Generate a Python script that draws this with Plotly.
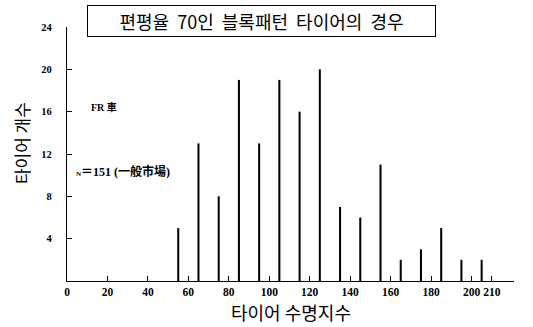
import plotly.graph_objects as go

# Tire life index classes (bar positions) and tire counts
life_index = [55, 65, 75, 85, 95, 105, 115, 125, 135, 145, 155, 165, 175, 185, 195, 205]
tire_count = [5, 13, 8, 19, 13, 19, 16, 20, 7, 6, 11, 2, 3, 5, 2, 2]

x_ticks = [0, 20, 40, 60, 80, 100, 120, 140, 160, 180, 200, 210]
y_ticks = [4, 8, 12, 16, 20, 24]

serif = "Liberation Serif, Times New Roman, Noto Sans CJK JP, serif"
kr = "Noto Sans CJK KR, sans-serif"

fig = go.Figure()
fig.add_trace(go.Bar(
    x=life_index, y=tire_count, width=1.0,
    marker=dict(color="black", line=dict(width=0)),
    hoverinfo="x+y",
))

fig.update_layout(
    width=533, height=327,
    margin=dict(l=67, r=19, t=27, b=46),
    paper_bgcolor="white", plot_bgcolor="white",
    showlegend=False,
    font=dict(family=serif, color="black", size=11),
    xaxis=dict(
        range=[0, 221], tickvals=x_ticks, ticktext=[str(v) for v in x_ticks],
        ticks="inside", ticklen=5, tickwidth=1, tickcolor="black",
        showline=True, linecolor="black", linewidth=1.2,
        showgrid=False, zeroline=False,
        tickfont=dict(family=serif, size=11.5, weight="bold"),
        fixedrange=True,
    ),
    yaxis=dict(
        range=[0, 24], tickvals=y_ticks,
        ticks="inside", ticklen=5, tickwidth=1, tickcolor="black",
        showline=True, linecolor="black", linewidth=1.2,
        showgrid=False, zeroline=False,
        tickfont=dict(family=serif, size=10.5, weight="bold"),
        ticklabelstandoff=12,
        fixedrange=True,
    ),
    annotations=[
        dict(text="편평율  70인  블록패턴  타이어의  경우",
             xref="paper", yref="paper", x=0.435, y=1.022,
             xanchor="center", yanchor="middle", showarrow=False,
             font=dict(family=kr, size=18, color="black"),
             bordercolor="black", borderwidth=1, borderpad=0,
             width=347, height=30, bgcolor="white"),
        dict(text="타이어 개수", textangle=-90,
             xref="paper", yref="paper", x=-0.1, y=0.544,
             xanchor="center", yanchor="middle", showarrow=False,
             font=dict(family=kr, size=17, color="black")),
        dict(text="타이어 수명지수",
             xref="paper", yref="paper", x=0.501, y=-0.122,
             xanchor="center", yanchor="middle", showarrow=False,
             font=dict(family=kr, size=18, color="black")),
        dict(text="FR 車",
             xref="x", yref="y", x=11, y=16.4,
             xanchor="left", yanchor="middle", showarrow=False,
             font=dict(family=serif, size=10, weight="bold", color="black")),
        dict(text="<span style='font-size:7px'>N</span>＝151 (一般市場)",
             xref="x", yref="y", x=3.5, y=10.3,
             xanchor="left", yanchor="middle", showarrow=False,
             font=dict(family=serif, size=12, weight="bold", color="black")),
    ],
)

fig.write_html("out.html")
